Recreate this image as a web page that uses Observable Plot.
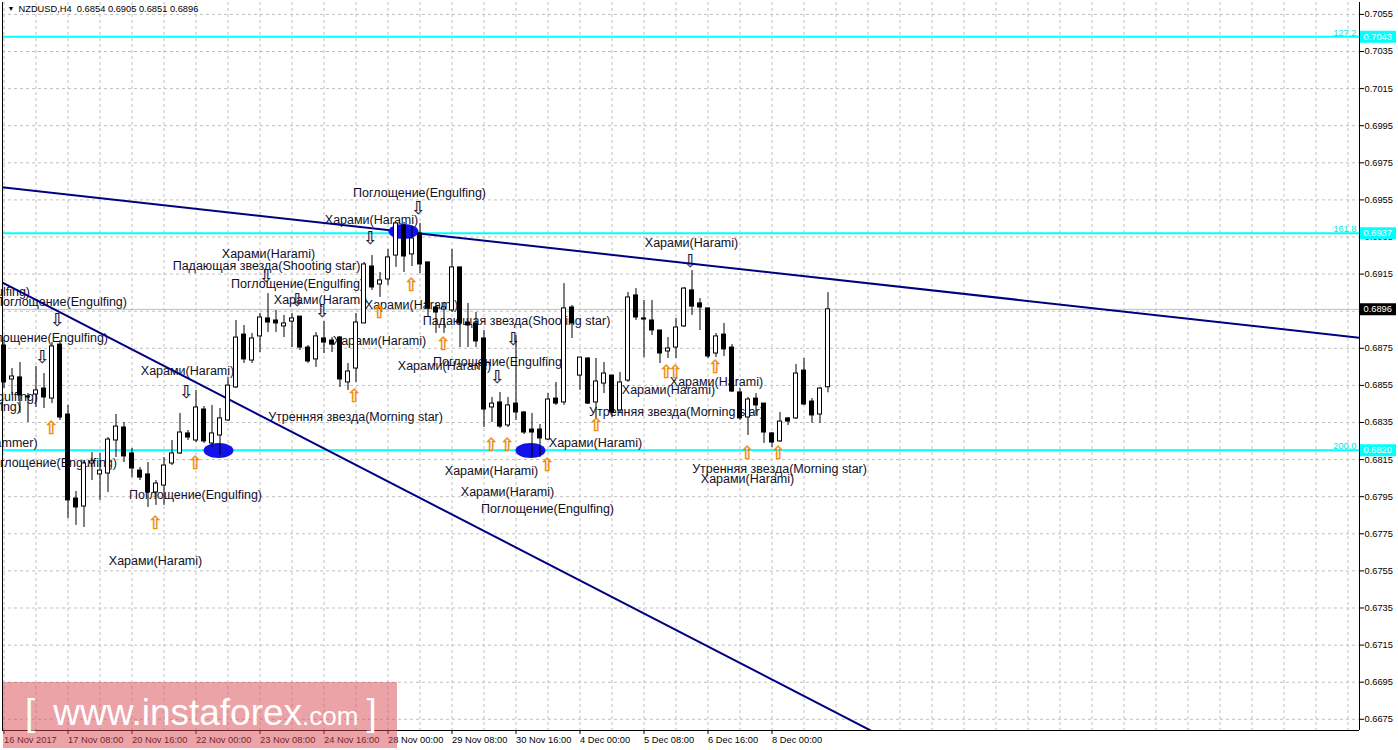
<!DOCTYPE html>
<html><head><meta charset="utf-8">
<script src="https://cdn.jsdelivr.net/npm/d3@7"></script>
<script src="https://cdn.jsdelivr.net/npm/@observablehq/plot@0.6"></script>
<style>
html,body{margin:0;padding:0;background:#fff;}
#wrap{position:relative;width:1398px;height:750px;overflow:hidden;}
#wm{position:absolute;left:3px;top:682px;width:394px;height:66px;background:rgba(217,71,79,0.5);color:#fff;font-family:"Liberation Sans",Arial,sans-serif;white-space:nowrap;}
#wm .line{position:absolute;left:22px;top:12px;line-height:37px;}
</style></head><body><div id="wrap"><div id="chart"></div>
<div id="wm"><div class="line"><span style="font-size:37px;margin-right:18px">[</span><span style="font-size:37px">www.instaforex</span><span style="font-size:26px">.com</span><span style="font-size:37px;margin-left:8px">]</span></div></div>
</div>
<script>
// ---- data (NZDUSD H4) ----
const openP = [0.68765,0.68582,0.68593,0.68490,0.68501,0.68533,0.68479,0.68770,0.68393,0.67940,
0.67897,0.68129,0.68070,0.68075,0.68253,0.68323,0.68183,0.68091,0.68070,0.67973,
0.68010,0.68129,0.68183,0.68291,0.68253,0.68420,0.68237,0.68280,0.68361,0.68539,
0.68824,0.68684,0.68814,0.68911,0.68900,0.68868,0.68894,0.68921,0.68754,0.68690,
0.68803,0.68792,0.68808,0.68566,0.68641,0.68884,0.69191,0.69094,0.69121,0.69250,
0.69412,0.69256,0.69369,0.69213,0.68970,0.68959,0.68954,0.69186,0.68889,0.68884,
0.68803,0.68431,0.68458,0.68334,0.68452,0.68404,0.68312,0.68312,0.68258,0.68479,
0.68458,0.68970,0.68603,0.68695,0.68458,0.68560,0.68603,0.68415,0.68576,0.69035,
0.68911,0.68900,0.68846,0.68733,0.68754,0.68868,0.69062,0.68992,0.68965,0.68722,
0.68824,0.68754,0.68512,0.68377,0.68479,0.68452,0.68291,0.68248,0.68372,0.68372,
0.68630,0.68463,0.68393,0.68540];
const highP = [0.68792,0.68641,0.68673,0.68506,0.68652,0.68614,0.68781,0.68792,0.68442,0.67978,
0.68145,0.68188,0.68183,0.68269,0.68393,0.68350,0.68210,0.68107,0.68134,0.68037,
0.68161,0.68253,0.68399,0.68307,0.68523,0.68436,0.68442,0.68425,0.68593,0.68900,
0.68873,0.68830,0.68938,0.69045,0.68954,0.68927,0.68938,0.68921,0.68765,0.68835,
0.68894,0.68808,0.68808,0.68668,0.68938,0.69213,0.69250,0.69159,0.69283,0.69428,
0.69428,0.69407,0.69423,0.69213,0.68992,0.68997,0.69283,0.69186,0.68992,0.68943,
0.68846,0.68485,0.68512,0.68485,0.68819,0.68409,0.68399,0.68339,0.68506,0.68566,
0.69099,0.68981,0.68700,0.68700,0.68695,0.68673,0.68603,0.68620,0.69051,0.69072,
0.69008,0.69008,0.68846,0.68808,0.68911,0.69078,0.69169,0.69018,0.68965,0.68830,
0.68884,0.68770,0.68533,0.68485,0.68506,0.68452,0.68296,0.68404,0.68377,0.68663,
0.68695,0.68479,0.68539,0.69050];
const lowP = [0.68533,0.68496,0.68399,0.68350,0.68431,0.68425,0.68452,0.68361,0.67832,0.67795,
0.67784,0.68037,0.67930,0.67973,0.68161,0.68134,0.68053,0.68037,0.67892,0.67903,
0.67903,0.68118,0.68178,0.68253,0.68242,0.68237,0.68215,0.68172,0.68355,0.68533,
0.68668,0.68668,0.68727,0.68835,0.68835,0.68808,0.68754,0.68738,0.68668,0.68647,
0.68722,0.68727,0.68539,0.68523,0.68566,0.68884,0.69062,0.69024,0.69089,0.69186,
0.69159,0.69191,0.69153,0.68916,0.68830,0.68830,0.68943,0.68754,0.68754,0.68754,
0.68323,0.68350,0.68318,0.68323,0.68361,0.68285,0.68161,0.68161,0.68253,0.68442,
0.68442,0.68803,0.68523,0.68447,0.68372,0.68506,0.68377,0.68404,0.68566,0.68900,
0.68700,0.68819,0.68668,0.68695,0.68695,0.68862,0.68927,0.68846,0.68695,0.68700,
0.68706,0.68512,0.68361,0.68280,0.68388,0.68237,0.68215,0.68242,0.68334,0.68366,
0.68442,0.68345,0.68345,0.68510];
const closeP = [0.68566,0.68598,0.68496,0.68485,0.68523,0.68485,0.68760,0.68377,0.67930,0.67892,
0.68129,0.68140,0.68091,0.68258,0.68328,0.68167,0.68102,0.68053,0.67973,0.68021,
0.68118,0.68183,0.68296,0.68269,0.68431,0.68248,0.68291,0.68372,0.68549,0.68808,
0.68690,0.68803,0.68916,0.68889,0.68884,0.68884,0.68911,0.68754,0.68679,0.68814,
0.68781,0.68770,0.68582,0.68625,0.68889,0.69202,0.69078,0.69116,0.69240,0.69423,
0.69245,0.69342,0.69202,0.68965,0.68943,0.68970,0.69186,0.68884,0.68873,0.68787,
0.68420,0.68452,0.68328,0.68442,0.68404,0.68296,0.68296,0.68264,0.68474,0.68452,
0.68965,0.68884,0.68700,0.68452,0.68571,0.68614,0.68404,0.68566,0.69024,0.68916,
0.68905,0.68846,0.68722,0.68749,0.68862,0.69072,0.68975,0.68970,0.68706,0.68814,
0.68744,0.68517,0.68372,0.68474,0.68442,0.68296,0.68242,0.68355,0.68355,0.68614,
0.68447,0.68388,0.68533,0.68960];

const xTickIdx = [0,8,16,24,32,40,48,56,64,72,80,88,96];
const xLabels = ["16 Nov 2017","17 Nov 08:00","20 Nov 16:00","22 Nov 00:00","23 Nov 08:00","24 Nov 16:00",
  "28 Nov 00:00","29 Nov 08:00","30 Nov 16:00","4 Dec 00:00","5 Dec 08:00","6 Dec 16:00","8 Dec 00:00"];
const yTicks = [0.6675,0.6695,0.6715,0.6735,0.6755,0.6775,0.6795,0.6815,0.6835,0.6855,
  0.6875,0.6895,0.6915,0.6935,0.6955,0.6975,0.6995,0.7015,0.7035,0.7055];

const levelVals = [0.7043, 0.6937, 0.6820];
const levelNames = ["127.2", "161.8", "200.0"];
const lastPrice = [0.6896];

const upperIdx = [-0.4375, 169.4375], upperVal = [0.69619, 0.68807];
const lowerIdx = [-0.4375, 108.3125], lowerVal = [0.69110, 0.66690];

const ellipseIdx = [26.81, 65.81, 49.94];
const ellipseVal = [0.68199, 0.68199, 0.69380];

const annoText = ["Поглощение(Engulfing)","Харами(Harami)","Харами(Harami)","Падающая звезда(Shooting star)",
 "Поглощение(Engulfing)","Харами(Harami)","Харами(Harami)","Поглощение(Engulfing)","Поглощение(Engulfing)",
 "Поглощение(Engulfing)","Харами(Harami)","Харами(Harami)","Харами(Harami)","Падающая звезда(Shooting star)",
 "Поглощение(Engulfing)","Поглощение(Engulfing)","Поглощение(Engulfing)","Молот(Hammer)","Поглощение(Engulfing)",
 "Поглощение(Engulfing)","Харами(Harami)","Утренняя звезда(Morning star)","Харами(Harami)","Харами(Harami)",
 "Харами(Harami)","Поглощение(Engulfing)","Утренняя звезда(Morning star)","Харами(Harami)","Харами(Harami)",
 "Харами(Harami)","Утренняя звезда(Morning star)","Харами(Harami)"];
const annoIdx = [51.94,45.94,33.06,32.81,36.69,39.56,50.94,7.06,-5.06,4.69,46.94,22.94,55.06,64.06,61.94,
 -4.06,-6.19,-1.63,5.81,23.94,18.94,43.94,73.94,60.94,62.94,67.94,84.06,83.06,89.06,85.94,96.94,92.94];
const annoVal = [0.69585,0.69439,0.69261,0.69191,0.69099,0.69008,0.68986,0.68997,0.69056,0.68808,0.68792,
 0.68630,0.68657,0.68895,0.68674,0.68490,0.68436,0.68242,0.68134,0.67957,0.67606,0.68382,0.68237,0.68086,
 0.67973,0.67881,0.68409,0.68523,0.68571,0.69320,0.68097,0.68043];

const downIdx = [51.81,45.81,32.81,36.69,39.81,63.69,61.69,22.81,4.81,6.69,85.81];
const downVal = [0.69504,0.69342,0.69137,0.69008,0.68948,0.68797,0.68593,0.68512,0.68700,0.68900,0.69218];
const upIdx = [18.94,5.94,23.94,43.81,46.94,50.94,54.94,60.94,62.94,67.94,74.06,82.81,83.94,88.94,92.94,96.81];
const upVal = [0.67806,0.68318,0.68129,0.68490,0.68943,0.69089,0.68771,0.68226,0.68226,0.68118,0.68334,
 0.68620,0.68620,0.68647,0.68183,0.68183];

const header = "NZDUSD,H4  0.6854 0.6905 0.6851 0.6896";

// ---- chart ----
const idx = d3.range(openP.length);
const xDomain = [-0.1875, 169.4375];
const yDomain = [0.666896, 0.706142];
const ellipse = {draw(ctx) {
  const rx = 15, ry = 7.5, k = 0.5523;
  ctx.moveTo(rx, 0);
  ctx.bezierCurveTo(rx, k*ry, k*rx, ry, 0, ry);
  ctx.bezierCurveTo(-k*rx, ry, -rx, k*ry, -rx, 0);
  ctx.bezierCurveTo(-rx, -k*ry, -k*rx, -ry, 0, -ry);
  ctx.bezierCurveTo(k*rx, -ry, rx, -k*ry, rx, 0);
  ctx.closePath();
}};
const FONT = "Liberation Sans, Arial, sans-serif";
const TXT = "#10102a";

const chart = Plot.plot({
  width: 1398, height: 750,
  marginLeft: 2, marginRight: 39, marginTop: 2, marginBottom: 20,
  style: {fontFamily: FONT, fontSize: "9.3px", background: "white", color: "black"},
  x: {type: "linear", domain: xDomain},
  y: {type: "linear", domain: yDomain},
  marks: [
    Plot.gridX(d3.range(0, 170, 4), {stroke: "#c0c0c0", strokeOpacity: 1, strokeDasharray: "3,3"}),
    Plot.gridY(yTicks, {stroke: "#c0c0c0", strokeOpacity: 1, strokeDasharray: "3,3"}),
    Plot.ruleY(lastPrice, {stroke: "#c0c0c0", strokeWidth: 1}),
    Plot.ruleY(levelVals, {stroke: "#00ffff", strokeWidth: 2}),
    Plot.text(levelVals, {y: d => d, text: (d, i) => levelNames[i], frameAnchor: "right", dx: -3, dy: -1,
      textAnchor: "end", lineAnchor: "bottom", fill: "#00e8e8", fontSize: 9.3}),
    Plot.text(annoText, {x: (d, i) => annoIdx[i], y: (d, i) => annoVal[i], text: d => d,
      fontSize: 12.5, fill: TXT, fontFamily: FONT}),
    Plot.text(downIdx, {x: d => d, y: (d, i) => downVal[i], text: () => "⇩", fontFamily: "DejaVu Sans",
      fontSize: 18, fill: "#1a1a3a", stroke: "#1a1a3a", strokeWidth: 0.2}),
    Plot.text(upIdx, {x: d => d, y: (d, i) => upVal[i], text: () => "⇧", fontFamily: "DejaVu Sans",
      fontSize: 18, fill: "#f08a00", stroke: "#f08a00", strokeWidth: 0.5}),
    Plot.line(upperIdx, {x: d => d, y: (d, i) => upperVal[i], stroke: "#000080", strokeWidth: 2, clip: true}),
    Plot.line(lowerIdx, {x: d => d, y: (d, i) => lowerVal[i], stroke: "#000080", strokeWidth: 2, clip: true}),
    Plot.dot(ellipseIdx, {x: d => d, y: (d, i) => ellipseVal[i], symbol: ellipse, fill: "#1212e8", stroke: "none", r: 5}),
    Plot.ruleX(idx, {x: i => i, y1: i => lowP[i], y2: i => highP[i], stroke: "black", strokeWidth: 1}),
    Plot.rect(idx, {x1: i => i - 0.25, x2: i => i + 0.25, y1: i => openP[i], y2: i => closeP[i],
      fill: i => closeP[i] >= openP[i] ? "white" : "black", stroke: "black", strokeWidth: 1}),
    // frame lines
    Plot.ruleX([xDomain[0], xDomain[1]], {stroke: "black"}),
    Plot.ruleY([yDomain[0]], {stroke: "black"}),
    // axes
    Plot.axisY(yTicks, {anchor: "right", tickSize: 4, tickPadding: 1, tickFormat: d => d.toFixed(4), fontSize: 9.3}),
    Plot.axisX(xTickIdx, {anchor: "bottom", tickSize: 4, tickPadding: 2, textAnchor: "start", dx: 0,
      tickFormat: d => xLabels[xTickIdx.indexOf(d)], fontSize: 9.3}),
    // price boxes on axis
    Plot.ruleY(levelVals, {stroke: "#00ffff", strokeWidth: 12, insetLeft: 1358, insetRight: -37}),
    Plot.text(levelVals, {y: d => d, text: d => d.toFixed(4), frameAnchor: "right", dx: 4, textAnchor: "start", fill: "white", fontSize: 9.3}),
    Plot.ruleY(lastPrice, {stroke: "black", strokeWidth: 12, insetLeft: 1358, insetRight: -37}),
    Plot.text(lastPrice, {y: d => d, text: d => d.toFixed(4), frameAnchor: "right", dx: 4, textAnchor: "start", fill: "white", fontSize: 9.3}),
    // header
    Plot.text(["▼"], {frameAnchor: "top-left", dx: 5, dy: 4, textAnchor: "start", lineAnchor: "top", fontSize: 7, fill: "black"}),
    Plot.text([header], {frameAnchor: "top-left", dx: 16, dy: 3, textAnchor: "start", lineAnchor: "top", fontSize: 9.3, fill: "black"})
  ]
});
document.getElementById("chart").appendChild(chart);
</script></body></html>
